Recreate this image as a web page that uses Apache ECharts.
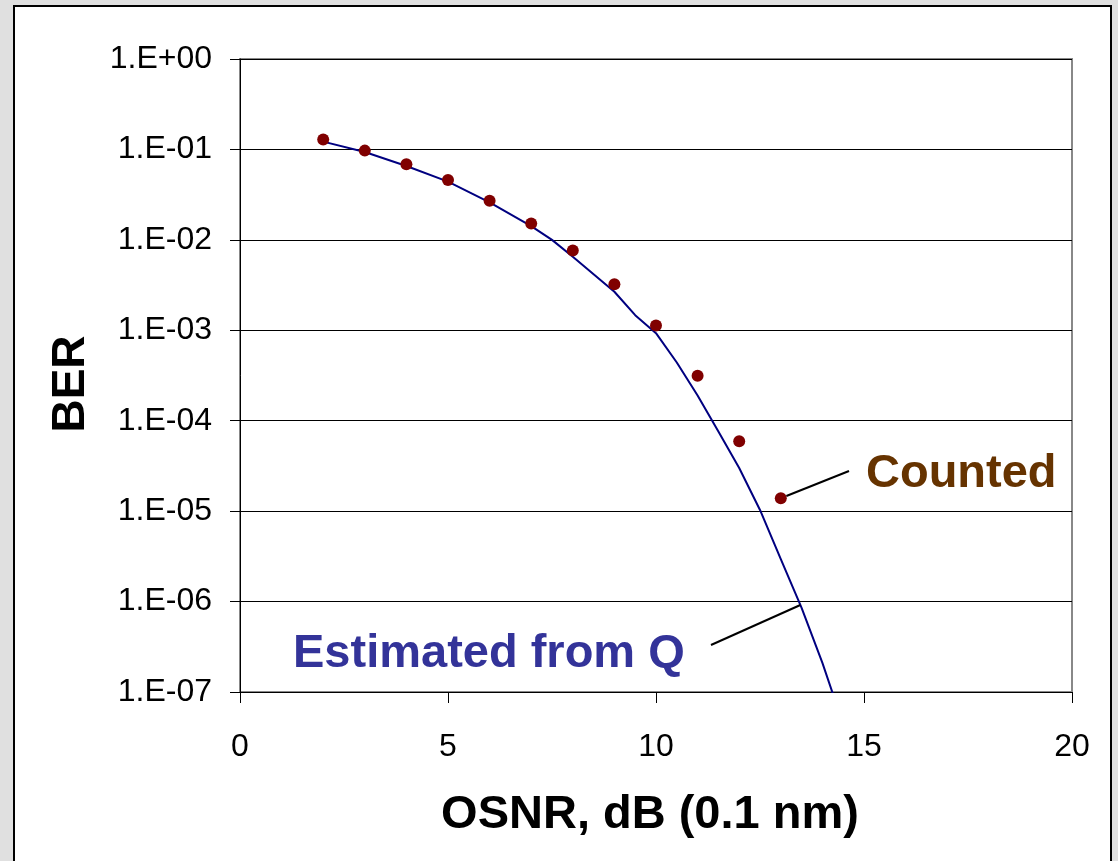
<!DOCTYPE html>
<html>
<head>
<meta charset="utf-8">
<script src="https://cdn.jsdelivr.net/npm/echarts@6/dist/echarts.min.js"></script>
<style>
  html, body { margin: 0; padding: 0; background: #e0e0e0; overflow: hidden; }
  #panel {
    position: absolute; left: 13px; top: 5px; width: 1099px; height: 900px;
    background: #ffffff; border: 2px solid #000000; box-sizing: border-box;
  }
  #chart { position: absolute; left: 0; top: 0; width: 1118px; height: 861px; }
</style>
</head>
<body>
<div id="panel"></div>
<div id="chart"></div>
<script>
// Measured bit error rate (counted errors) versus OSNR
const countedOsnr = [2, 3, 4, 5, 6, 7, 8, 9, 10, 11, 12, 13];
const countedBer = [0.129, 0.097, 0.0684, 0.0459, 0.0271, 0.0152, 0.00762, 0.00322, 0.00113, 3.15e-4, 5.94e-5, 1.39e-5];

// BER estimated from the measured Q factor
const estOsnr = [2, 3, 4, 5, 6, 7, 7.5, 8, 9, 9.5, 10, 10.5, 11, 11.5, 12, 12.5, 13, 13.5, 14, 14.25];
const estBer = [0.122, 0.0936, 0.0655, 0.0440, 0.0260, 0.0142, 0.0100, 0.0065, 0.00267, 0.00147, 9.3e-4, 4.4e-4, 1.9e-4, 7.6e-5, 3.0e-5, 1.03e-5, 2.95e-6, 8.5e-7, 2.1e-7, 9.6e-8];

const xTicks = [0, 5, 10, 15, 20];
const yDecades = [0, -1, -2, -3, -4, -5, -6, -7];

const FONT = "'Liberation Sans', Arial, sans-serif";

function sciLabel(v) {
  const e = Math.round(Math.log10(v));
  const sign = e < 0 ? '-' : '+';
  const a = Math.abs(e);
  return '1.E' + sign + (a < 10 ? '0' + a : '' + a);
}

const chart = echarts.init(document.getElementById('chart'), null, { renderer: 'canvas' });

const option = {
  backgroundColor: 'transparent',
  animation: false,
  grid: {
    left: 240, right: 46, top: 59, bottom: 169,
    show: true, backgroundColor: '#ffffff', borderColor: '#888888', borderWidth: 2
  },
  xAxis: {
    type: 'value',
    min: xTicks[0], max: xTicks[xTicks.length - 1], interval: 5,
    axisLine: { show: true, onZero: false, lineStyle: { color: '#000', width: 1 } },
    axisTick: { show: true, length: 11, inside: false, lineStyle: { color: '#000', width: 1 } },
    axisLabel: { color: '#000', fontFamily: FONT, fontSize: 32, margin: 39 },
    splitLine: { show: false }
  },
  yAxis: {
    type: 'log', logBase: 10,
    min: Math.pow(10, yDecades[yDecades.length - 1]), max: Math.pow(10, yDecades[0]),
    splitNumber: 7,
    axisLine: { show: true, onZero: false, lineStyle: { color: '#000', width: 1 } },
    axisTick: { show: true, length: 10, lineStyle: { color: '#000', width: 1 } },
    axisLabel: { color: '#000', fontFamily: FONT, fontSize: 32, margin: 28, formatter: sciLabel },
    splitLine: { show: true, lineStyle: { color: '#000', width: 1 } },
    minorTick: { show: false }, minorSplitLine: { show: false }
  },
  series: [
    {
      name: 'Estimated from Q',
      type: 'line',
      data: estOsnr.map((x, i) => [x, estBer[i]]),
      showSymbol: false, symbol: 'none',
      lineStyle: { color: '#000080', width: 2 },
      clip: true, z: 2
    },
    {
      name: 'Counted',
      type: 'scatter',
      data: countedOsnr.map((x, i) => [x, countedBer[i]]),
      symbol: 'circle', symbolSize: 12,
      itemStyle: { color: '#800000', opacity: 1 },
      z: 3
    }
  ]
};

chart.setOption(option);

// Log-space interpolation along the estimated curve
function estAt(x) {
  for (let i = 0; i < estOsnr.length - 1; i++) {
    if (x >= estOsnr[i] && x <= estOsnr[i + 1]) {
      const t = (x - estOsnr[i]) / (estOsnr[i + 1] - estOsnr[i]);
      const l = Math.log10(estBer[i]) + t * (Math.log10(estBer[i + 1]) - Math.log10(estBer[i]));
      return Math.pow(10, l);
    }
  }
  return estBer[estBer.length - 1];
}

const lastIdx = countedOsnr.length - 1;
const ptPix = chart.convertToPixel({ gridIndex: 0 }, [countedOsnr[lastIdx], countedBer[lastIdx]]);
const countedEnd = [849, 471];
const dx = countedEnd[0] - ptPix[0], dy = countedEnd[1] - ptPix[1];
const dl = Math.hypot(dx, dy);
const countedStart = [ptPix[0] + dx / dl * 6, ptPix[1] + dy / dl * 6];

const curveX = 13.47;
const curvePix = chart.convertToPixel({ gridIndex: 0 }, [curveX, estAt(curveX)]);

chart.setOption({
  graphic: [
    {
      type: 'text', z: 10,
      x: 71, y: 384, rotation: Math.PI / 2,
      style: { text: 'BER', fontFamily: FONT, fontSize: 46, fontWeight: 'bold', fill: '#000', align: 'center', verticalAlign: 'middle' }
    },
    {
      type: 'text', z: 10,
      x: 650, y: 815,
      style: { text: 'OSNR, dB (0.1 nm)', fontFamily: FONT, fontSize: 47, fontWeight: 'bold', fill: '#000', align: 'center', verticalAlign: 'middle' }
    },
    {
      type: 'text', z: 10,
      x: 866, y: 474,
      style: { text: 'Counted', fontFamily: FONT, fontSize: 47, fontWeight: 'bold', fill: '#663300', align: 'left', verticalAlign: 'middle' }
    },
    {
      type: 'line', z: 10,
      shape: { x1: countedStart[0], y1: countedStart[1], x2: countedEnd[0], y2: countedEnd[1] },
      style: { stroke: '#000', lineWidth: 2 }
    },
    {
      type: 'text', z: 10,
      x: 293, y: 654,
      style: { text: 'Estimated from Q', fontFamily: FONT, fontSize: 47, fontWeight: 'bold', fill: '#333399', align: 'left', verticalAlign: 'middle' }
    },
    {
      type: 'line', z: 10,
      shape: { x1: 711, y1: 645, x2: curvePix[0], y2: curvePix[1] },
      style: { stroke: '#000', lineWidth: 2 }
    }
  ]
});
</script>
</body>
</html>
